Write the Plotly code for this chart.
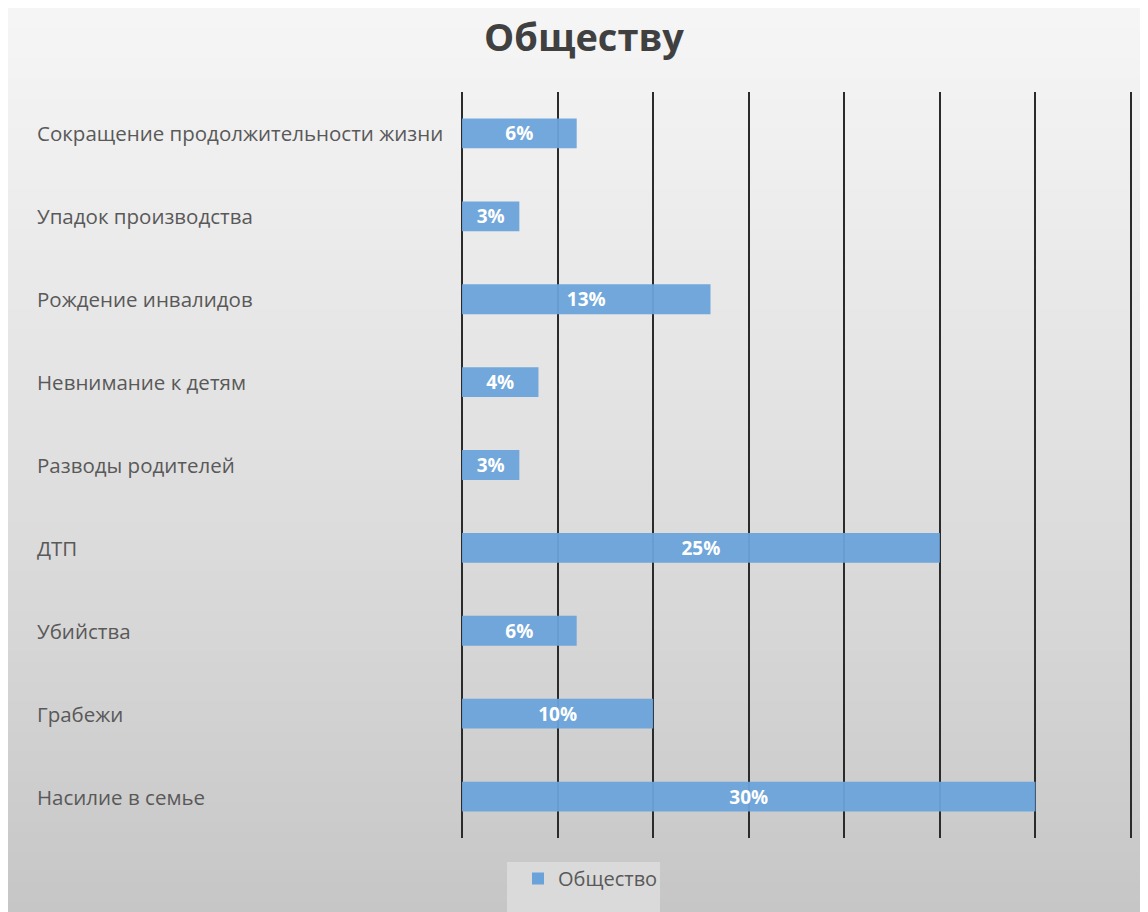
import plotly.graph_objects as go

categories = [
    "Сокращение продолжительности жизни",
    "Упадок производства",
    "Рождение инвалидов",
    "Невнимание к детям",
    "Разводы родителей",
    "ДТП",
    "Убийства",
    "Грабежи",
    "Насилие в семье",
]
values = [6, 3, 13, 4, 3, 25, 6, 10, 30]
series_name = "Общество"
title_text = "Обществу"

# figure is placed by the page at an 8px offset; coordinates below are figure pixels
W, H = 1140, 904

def fx(px):
    return px / W

def fy(py):
    return 1 - py / H

X_MAX = 35.1
px_per_unit = 669 / 35

fig = go.Figure()
fig.add_trace(go.Bar(
    y=categories,
    x=values,
    orientation="h",
    name=series_name,
    width=0.36,
    marker=dict(color="#6aa3da", opacity=0.95, line=dict(width=0)),
    text=[f"{v}%" for v in values],
    textposition="inside",
    insidetextanchor="middle",
    constraintext="none",
    textfont=dict(family="Open Sans", size=19, color="white", weight="bold"),
    cliponaxis=False,
))

shapes = []
# background gradient (horizontal strips)
top_c = (245, 245, 245)
bot_c = (198, 198, 198)
n = 90
for i in range(n):
    a = H * i / n
    b = H * (i + 1) / n + 1
    t = (i + 0.5) / n
    t = t ** 1.15
    c = tuple(int(round(top_c[k] + (bot_c[k] - top_c[k]) * t)) for k in range(3))
    shapes.append(dict(type="rect", xref="paper", yref="paper", layer="below",
                       x0=0, x1=1.0, y0=fy(min(b, H)), y1=fy(a),
                       fillcolor=f"rgb{c}", line=dict(width=0)))
# legend box
shapes.append(dict(type="rect", xref="paper", yref="paper", layer="below",
                   x0=fx(499), x1=fx(652), y0=0, y1=fy(854),
                   fillcolor="#dadada", line=dict(width=0)))

annotations = []
for c in categories:
    annotations.append(dict(
        x=fx(27), xref="paper", xanchor="left",
        y=c, yref="y", yanchor="middle",
        text=c, showarrow=False,
        font=dict(family="Open Sans", size=20.5, color="#595959"),
    ))

fig.update_layout(
    width=W, height=H,
    margin=dict(l=0, r=0, t=0, b=0),
    paper_bgcolor="#e6e6e6",
    plot_bgcolor="rgba(0,0,0,0)",
    title=dict(text=title_text, x=576 / W, xanchor="center", y=fy(30), yanchor="middle",
               yref="paper",
               font=dict(family="Open Sans", size=38, color="#404040", weight="bold")),
    xaxis=dict(domain=[fx(454), fx(454 + X_MAX * px_per_unit)], range=[0, X_MAX],
               tickmode="linear", tick0=0, dtick=5,
               showgrid=True, gridcolor="#2b2b2b", gridwidth=2,
               zeroline=True, zerolinecolor="#2b2b2b", zerolinewidth=2,
               showticklabels=False, ticks="", showline=False, fixedrange=True),
    yaxis=dict(domain=[fy(830), fy(84)], autorange="reversed",
               showticklabels=False, ticks="", showgrid=False, zeroline=False,
               showline=False),
    shapes=shapes,
    annotations=annotations,
    showlegend=True,
    legend=dict(orientation="h", x=fx(510), y=fy(851), xanchor="left", yanchor="top",
                bgcolor="rgba(0,0,0,0)",
                font=dict(family="Open Sans", size=20, color="#595959")),
    bargap=0.64,
)

fig.write_html("out.html")
